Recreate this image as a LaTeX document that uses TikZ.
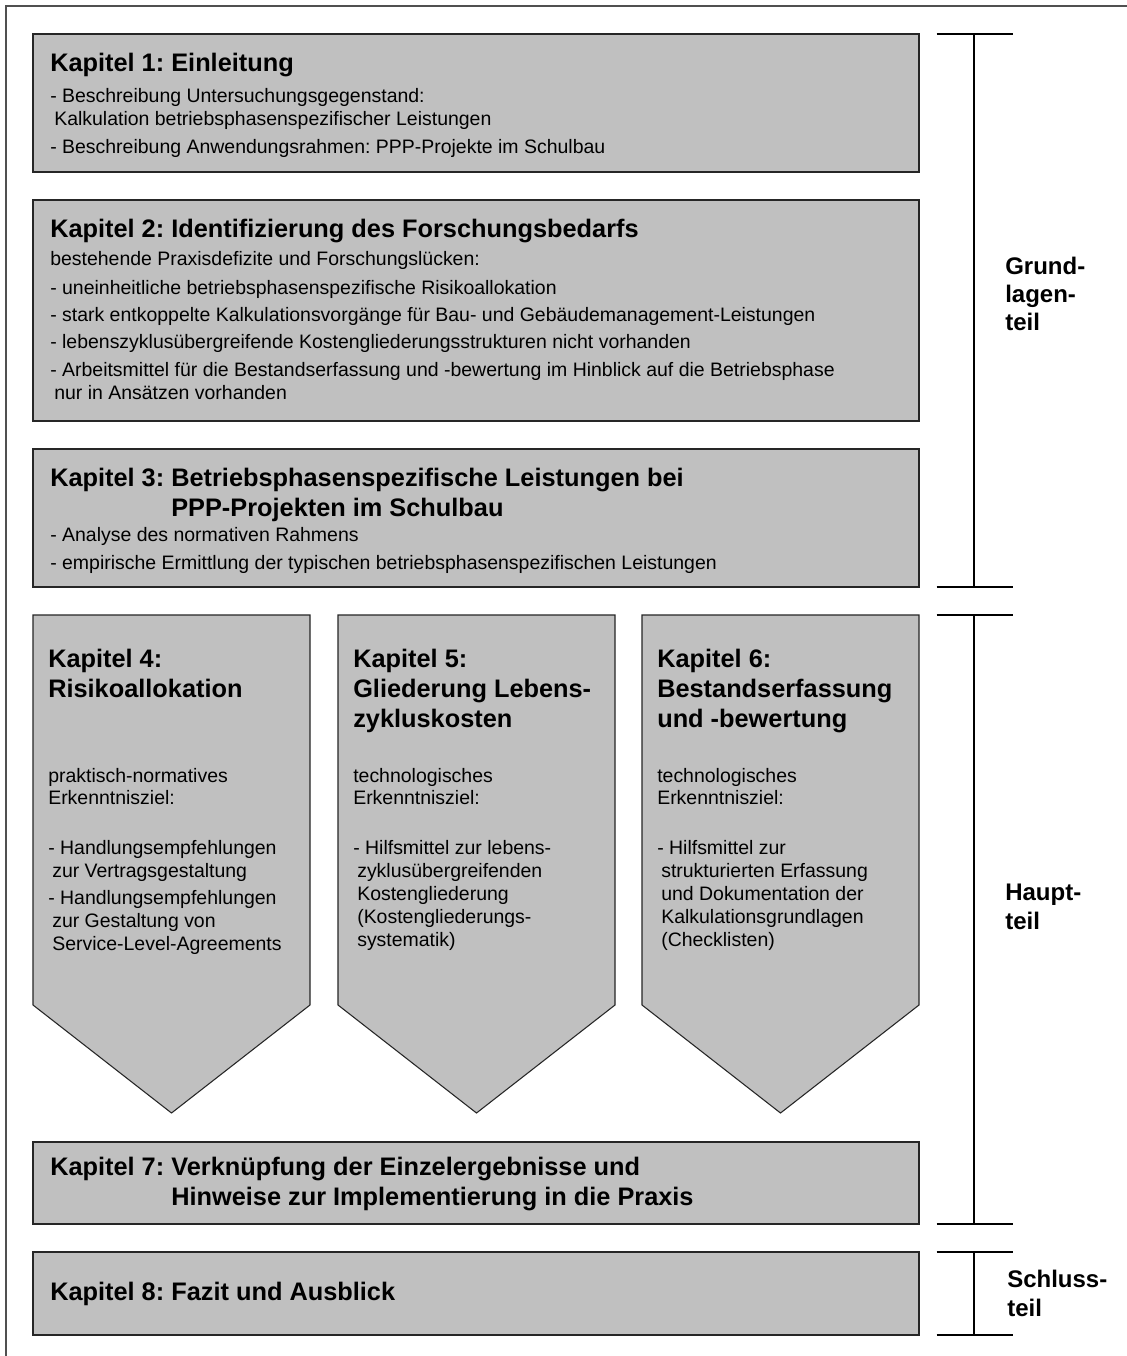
\documentclass[tikz,border=0pt]{standalone}
\usepackage{fontspec}
\setmainfont{Liberation Sans}
\definecolor{boxgray}{HTML}{C0C0C0}
\definecolor{framegray}{HTML}{505050}
\newcommand\mytitle[4]{\node[ttl] (#1) at (#2,#3) {#4};}
\newcommand\mybody[4]{\node[bdy] (#1) at (#2,#3) {#4};}
\newcommand\mylabel[4]{\node[lbl] (#1) at (#2,#3) {#4};}
\begin{document}
\frenchspacing
\begin{tikzpicture}[x=0.75pt,y=-0.75pt,
  box/.style={draw=black!85,fill=boxgray,line width=0.8pt,line join=miter},
  ttl/.style={anchor=base west,inner sep=0pt,font=\frenchspacing\fontsize{19}{22}\selectfont\bfseries},
  bdy/.style={anchor=base west,inner sep=0pt,font=\frenchspacing\fontsize{14.6}{17}\selectfont},
  lbl/.style={anchor=base west,inner sep=0pt,font=\frenchspacing\fontsize{18}{21}\selectfont\bfseries},
  brk/.style={line width=1.6pt,black},
  frm/.style={line width=1.1pt,framegray}]
\useasboundingbox (0,0) rectangle (1127,1356);
\fill[white] (0,0) rectangle (1127,1356);
\draw[frm] (6,1360) -- (6,6) -- (1130,6);

% ---------- boxes ----------
\draw[box] (33,34) rectangle (919,172);
\draw[box] (33,200) rectangle (919,421);
\draw[box] (33,449) rectangle (919,587);
\draw[box] (33,615) -- (310,615) -- (310,1005) -- (171.5,1113) -- (33,1005) -- cycle;
\draw[box] (338,615) -- (615,615) -- (615,1005) -- (476.5,1113) -- (338,1005) -- cycle;
\draw[box] (642,615) -- (919,615) -- (919,1005) -- (780.5,1113) -- (642,1005) -- cycle;
\draw[box] (33,1142) rectangle (919,1224);
\draw[box] (33,1252) rectangle (919,1335);

% ---------- Kapitel 1 ----------
\mytitle{k1t}{50}{71}{Kapitel 1: Einleitung}
\mybody{k1a}{50}{102}{- Beschreibung Untersuchungsgegenstand:}
\mybody{k1b}{54}{125}{Kalkulation betriebsphasenspezifischer Leistungen}
\mybody{k1c}{50}{153}{- Beschreibung Anwendungsrahmen: PPP-Projekte im Schulbau}

% ---------- Kapitel 2 ----------
\mytitle{k2t}{50}{237}{Kapitel 2: Identifizierung des Forschungsbedarfs}
\mybody{k2a}{50}{265}{bestehende Praxisdefizite und Forschungslücken:}
\mybody{k2b}{50}{294}{- uneinheitliche betriebsphasenspezifische Risikoallokation}
\mybody{k2c}{50}{321}{- stark entkoppelte Kalkulationsvorgänge für Bau- und Gebäudemanagement-Leistungen}
\mybody{k2d}{50}{348}{- lebenszyklusübergreifende Kostengliederungsstrukturen nicht vorhanden}
\mybody{k2e}{50}{376}{- Arbeitsmittel für die Bestandserfassung und -bewertung im Hinblick auf die Betriebsphase}
\mybody{k2f}{54}{399}{nur in Ansätzen vorhanden}

% ---------- Kapitel 3 ----------
\mytitle{k3t}{50}{486}{Kapitel 3: Betriebsphasenspezifische Leistungen bei}
\mytitle{k3u}{171}{516}{PPP-Projekten im Schulbau}
\mybody{k3a}{50}{541}{- Analyse des normativen Rahmens}
\mybody{k3b}{50}{569}{- empirische Ermittlung der typischen betriebsphasenspezifischen Leistungen}

% ---------- Kapitel 4 ----------
\mytitle{k4t}{48}{667}{Kapitel 4:}
\mytitle{k4u}{48}{697}{Risikoallokation}
\mybody{k4a}{48}{782}{praktisch-normatives}
\mybody{k4b}{48}{804}{Erkenntnisziel:}
\mybody{k4c}{48}{854}{- Handlungsempfehlungen}
\mybody{k4d}{52}{877}{zur Vertragsgestaltung}
\mybody{k4e}{48}{904}{- Handlungsempfehlungen}
\mybody{k4f}{52}{927}{zur Gestaltung von}
\mybody{k4g}{52}{950}{Service-Level-Agreements}

% ---------- Kapitel 5 ----------
\mytitle{k5t}{353}{667}{Kapitel 5:}
\mytitle{k5u}{353}{697}{Gliederung Lebens-}
\mytitle{k5v}{353}{727}{zykluskosten}
\mybody{k5a}{353}{782}{technologisches}
\mybody{k5b}{353}{804}{Erkenntnisziel:}
\mybody{k5c}{353}{854}{- Hilfsmittel zur lebens-}
\mybody{k5d}{357}{877}{zyklusübergreifenden}
\mybody{k5e}{357}{900}{Kostengliederung}
\mybody{k5f}{357}{923}{(Kostengliederungs-}
\mybody{k5g}{357}{946}{systematik)}

% ---------- Kapitel 6 ----------
\mytitle{k6t}{657}{667}{Kapitel 6:}
\mytitle{k6u}{657}{697}{Bestandserfassung}
\mytitle{k6v}{657}{727}{und -bewertung}
\mybody{k6a}{657}{782}{technologisches}
\mybody{k6b}{657}{804}{Erkenntnisziel:}
\mybody{k6c}{657}{854}{- Hilfsmittel zur}
\mybody{k6d}{661}{877}{strukturierten Erfassung}
\mybody{k6e}{661}{900}{und Dokumentation der}
\mybody{k6f}{661}{923}{Kalkulationsgrundlagen}
\mybody{k6g}{661}{946}{(Checklisten)}

% ---------- Kapitel 7, 8 ----------
\mytitle{k7t}{50}{1175}{Kapitel 7: Verknüpfung der Einzelergebnisse und}
\mytitle{k7u}{171}{1205}{Hinweise zur Implementierung in die Praxis}
\mytitle{k8t}{50}{1300}{Kapitel 8: Fazit und Ausblick}

% ---------- brackets ----------
\coordinate (g1) at (974,34);  \coordinate (g2) at (974,587);
\coordinate (h1) at (974,615); \coordinate (h2) at (974,1224);
\coordinate (s1) at (974,1252); \coordinate (s2) at (974,1335);
\foreach \a/\b in {g1/g2,h1/h2,s1/s2}{
  \draw[brk] (\a) -- (\b);
  \draw[brk] ([xshift=-28]\a) -- ([xshift=29]\a);
  \draw[brk] ([xshift=-28]\b) -- ([xshift=29]\b);
}
\mylabel{gl1}{1005}{274}{Grund-}
\mylabel{gl2}{1005}{302}{lagen-}
\mylabel{gl3}{1005}{330}{teil}
\mylabel{hl1}{1005}{900}{Haupt-}
\mylabel{hl2}{1005}{929}{teil}
\mylabel{sl1}{1007}{1287}{Schluss-}
\mylabel{sl2}{1007}{1316}{teil}
\end{tikzpicture}
\end{document}
